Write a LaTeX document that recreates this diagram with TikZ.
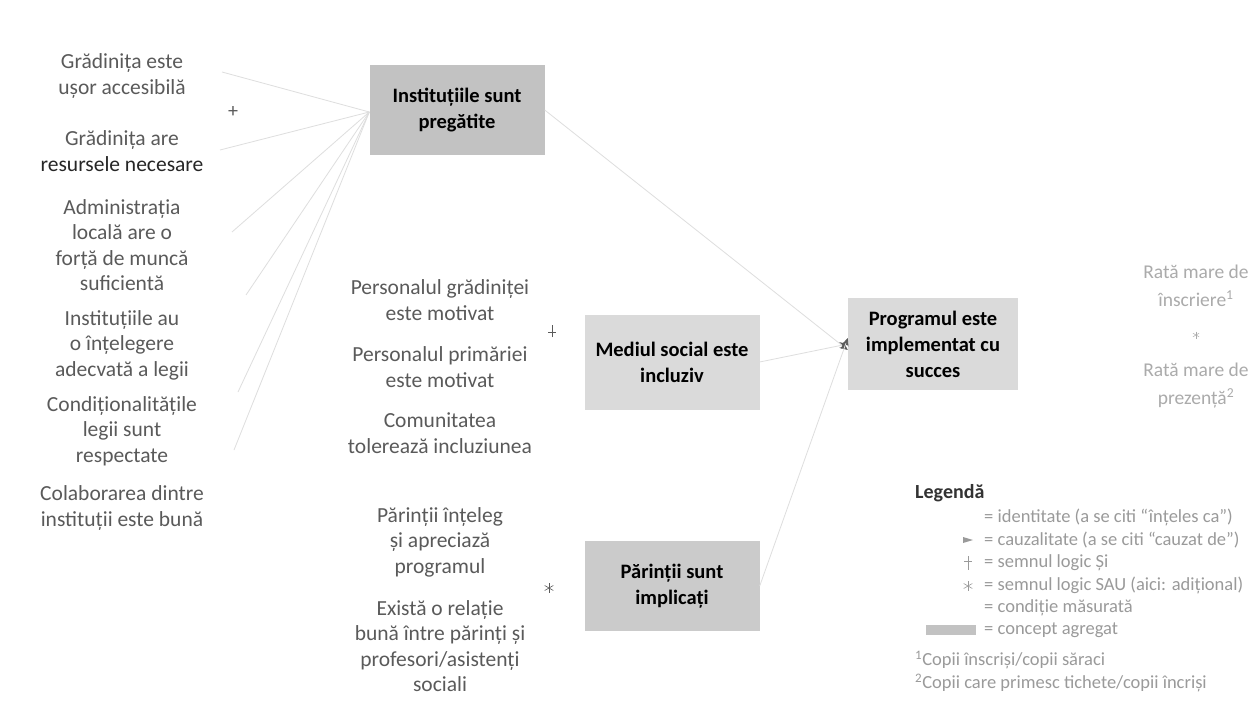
\documentclass[tikz,border=0pt]{standalone}
\usepackage{fontspec}
\setmainfont{Carlito}
\usetikzlibrary{arrows.meta}
\definecolor{txtgray}{HTML}{5A5A5A}
\definecolor{lightgray}{HTML}{ABABAB}
\definecolor{leggray}{HTML}{9A9A9A}
\definecolor{linegray}{HTML}{DEDEDE}
\definecolor{boxdark}{HTML}{C2C2C2}
\definecolor{boxlight}{HTML}{DADADA}
\definecolor{boxmid}{HTML}{CBCBCB}
\begin{document}
\begin{tikzpicture}[x=1pt,y=-1pt,
  lbl/.style={align=center,text=txtgray,inner sep=0pt,font=\fontsize{21.5}{25.5}\selectfont},
  rlbl/.style={align=center,text=lightgray,inner sep=0pt,font=\fontsize{19.5}{28}\selectfont},
  concept/.style={align=center,text=black,inner sep=0pt,font=\fontsize{20.5}{26}\selectfont\bfseries},
  conn/.style={draw=linegray,line width=0.8pt},
  causal/.style={draw=linegray,line width=0.8pt,-{Stealth[length=8pt,width=7pt,color=txtgray]}},
  legtxt/.style={anchor=west,text=leggray,inner sep=0pt,font=\fontsize{18.5}{20}\selectfont},
  logic/.style={text=txtgray,inner sep=0pt,font=\fontsize{20}{20}\selectfont},
  starsym/.style={draw=txtgray,line width=0.6pt}]
\useasboundingbox (0,0) rectangle (1252,714);
\fill[white] (0,0) rectangle (1252,714);

% concept boxes
\node[concept,fill=boxdark,minimum width=175pt,minimum height=90pt] (inst) at (457,110) {Instituțiile sunt\\pregătite};
\node[concept,fill=boxlight,minimum width=175pt,minimum height=95pt] (med) at (672,362) {Mediul social este\\incluziv};
\node[concept,fill=boxlight,minimum width=170pt,minimum height=92pt] (prog) at (933,344) {Programul este\\implementat cu\\succes};
\node[concept,fill=boxmid,minimum width=175pt,minimum height=90pt] (par) at (672,586) {Părinții sunt\\implicați};

% left column
\node[lbl] (g1) at (122,76) {Grădinița este\\ușor accesibilă};
\node[lbl] (g2) at (122,151) {Grădinița are\\{\color{black!85}resursele necesare}};
\node[lbl] (g3) at (122,245) {Administrația\\locală are o\\forță de muncă\\suficientă};
\node[lbl] (g4) at (122,345) {Instituțiile au\\o înțelegere\\adecvată a legii};
\node[lbl] (g5) at (122,431) {Condiționalitățile\\legii sunt\\respectate};
\node[lbl] (g6) at (122,508) {Colaborarea dintre\\instituții este bună};
\node[logic] (and1) at (233,112) {+};

% connectors to institutions
\coordinate (c1) at (222,72);
\coordinate (c2) at (220,150);
\coordinate (c3) at (232,232);
\coordinate (c4) at (246,295);
\coordinate (c5) at (238,392);
\coordinate (c6) at (234,450);
\foreach \c in {c1,c2,c3,c4,c5,c6} \draw[conn] (\c) -- ([yshift=-2pt]inst.west);

% middle column
\node[lbl] (m1) at (440,300) {Personalul grădiniței\\este motivat};
\node[lbl] (m2) at (440,367) {Personalul primăriei\\este motivat};
\node[lbl] (m3) at (440,433) {Comunitatea\\tolerează incluziunea};
\coordinate (and2) at (552,331);
\draw[starsym,line width=0.5pt] ([yshift=-6pt]and2) -- ([yshift=6pt]and2) ([xshift=-4pt,yshift=-1pt]and2) -- ([xshift=4pt,yshift=-1pt]and2);
\node[lbl] (p1) at (440,542) {Părinții înțeleg\\și apreciază\\programul};
\node[lbl] (p2) at (440,646) {Există o relație\\bună între părinți și\\profesori/asistenți\\sociali};
\coordinate (or1) at (549,588);
\foreach \a in {90,30,150} \draw[starsym] (or1) ++(\a:5pt) -- ++(\a+180:10pt);

% causal arrows to programme
\draw[causal] (inst.east) -- ([yshift=-6pt]prog.west);
\draw[causal] (med.east) -- (prog.west);
\draw[causal] (par.east) -- ([yshift=6pt]prog.west);

% right column
\node[rlbl] (r1) at (1196,286) {Rată mare de\\înscriere\textsuperscript{1}};
\coordinate (or2) at (1196,335);
\foreach \a in {90,30,150} \draw[starsym,draw=lightgray,line width=0.5pt] (or2) ++(\a:3.5pt) -- ++(\a+180:7pt);
\node[rlbl] (r2) at (1196,386) {Rată mare de\\prezență\textsuperscript{2}};

% legend
\node[anchor=west,inner sep=0pt,text=black!80,font=\fontsize{20}{20}\selectfont\bfseries] (legt) at (915,493) {Legendă};
\node[legtxt] (l1) at (984,517) {= identitate (a se citi “înțeles ca”)};
\node[legtxt] (l2) at (984,540) {= cauzalitate (a se citi “cauzat de”)};
\node[legtxt] (l3) at (984,563) {= semnul logic Și};
\node[legtxt] (l4) at (984,585) {= semnul logic SAU (aici: adițional)};
\node[legtxt] (l5) at (984,608) {= condiție măsurată};
\node[legtxt] (l6) at (984,630) {= concept agregat};
\node[legtxt] (l7) at (915,660) {\textsuperscript{1}Copii înscriși/copii săraci};
\node[legtxt] (l8) at (915,683) {\textsuperscript{2}Copii care primesc tichete/copii încriși};
% legend symbols
\fill[leggray] (963,537) -- (973,540) -- (963,543) -- cycle;
\draw[leggray,line width=0.6pt] (968,556) -- (968,570) (964,561) -- (972,561);
\coordinate (ls) at (968,586);
\foreach \a in {90,30,150} \draw[starsym,draw=leggray] (ls) ++(\a:5pt) -- ++(\a+180:10pt);
\fill[boxdark] (926,625) rectangle (976,635);
\end{tikzpicture}
\end{document}
